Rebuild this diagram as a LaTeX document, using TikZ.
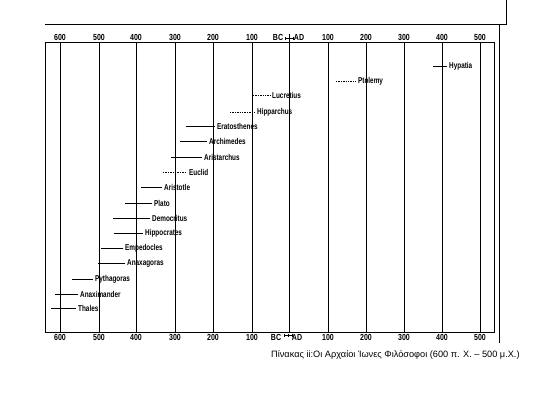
\documentclass[tikz,border=0pt]{standalone}
\usepackage{fontspec}
\setmainfont{Liberation Sans}
\newfontfamily\labfont[FakeStretch=0.75]{Liberation Sans}
\newfontfamily\yrfont[FakeStretch=0.8]{Liberation Sans}
\begin{document}
\begin{tikzpicture}[x=1pt,y=-1pt,
  lab/.style={font=\labfont\bfseries\fontsize{8.5}{9}\selectfont, inner xsep=2pt, inner ysep=1pt},
  yrlab/.style={font=\yrfont\bfseries\fontsize{8.8}{9}\selectfont, inner sep=0pt},
  life/.style={line width=0.8pt},
  lifed/.style={line width=0.6pt, dash pattern=on 1.4pt off 1pt},
  gridline/.style={line width=0.8pt},
  capfont/.style={font=\fontsize{9.2}{10}\selectfont, inner sep=0pt}]
\useasboundingbox (0,0) rectangle (540,392);
% outer rules of the page
\draw[gridline] (45,24) -- (506,24) -- (506,0);
\draw[gridline] (499,24) -- (499,343);
% frame
\draw[gridline] (45,42) rectangle (494,332);
% century lines and labels
\foreach \x/\lab [count=\i] in {60/600,99/500,136/400,175/300,213/200,252/100,328/100,366/200,404/300,442/400,480/500}{
  \draw[gridline] (\x,42) -- (\x,332);
  \node[yrlab] (top\i) at (\x,37) {\lab};
  \node[yrlab] (bot\i) at (\x,337.5) {\lab};
}
% BC / AD line
\draw[line width=1pt] (289,34) -- (289,332);
\node[yrlab] (bctop) at (278,37) {BC};
\node[yrlab] (adtop) at (299,37) {AD};
\node[yrlab] (bcbot) at (276,337.5) {BC};
\node[yrlab] (adbot) at (297,337.5) {AD};
\draw[line width=0.5pt] (285,38.5) -- (293,38.5);
\foreach \t in {285,289,293}{\draw[line width=0.5pt] (\t,37) -- (\t,40);}
\draw[line width=0.5pt] (284,335) -- (293,335);
\foreach \t in {284.5,288.5,292.5}{\draw[line width=0.5pt] (\t,333.5) -- (\t,336.5);}
% philosophers
\foreach \a/\b/\y/\st/\nm [count=\i] in {
  433/447/66/life/Hypatia,
  336/356/81/lifed/Ptolemy,
  253/270/95/lifed/Lucretius,
  230/255/112/lifed/Hipparchus,
  186/215/126/life/Eratosthenes,
  180/207/141/life/Archimedes,
  171/202/157/life/Aristarchus,
  163/187/172/lifed/Euclid,
  141/162/187/life/Aristotle,
  125/152/203/life/Plato,
  113/150/218/life/Democritus,
  114/143/233/life/Hippocrates,
  101/123/248/life/Empedocles,
  98/125/263/life/Anaxagoras,
  72/93/279/life/Pythagoras,
  55/78/294/life/Anaximander,
  51/76/308/life/Thales}{
  \coordinate (s\i) at (\a,\y);
  \node[lab,anchor=west] (p\i) at (\b,\y) {\nm};
  \draw[\st] (s\i) -- (p\i.west);
}
% caption
\node[capfont,anchor=west] (cap) at (271,355) {Πίνακας ii:Οι Αρχαίοι Ίωνες Φιλόσοφοι (600 π. Χ. – 500 μ.Χ.)};
\end{tikzpicture}
\end{document}
